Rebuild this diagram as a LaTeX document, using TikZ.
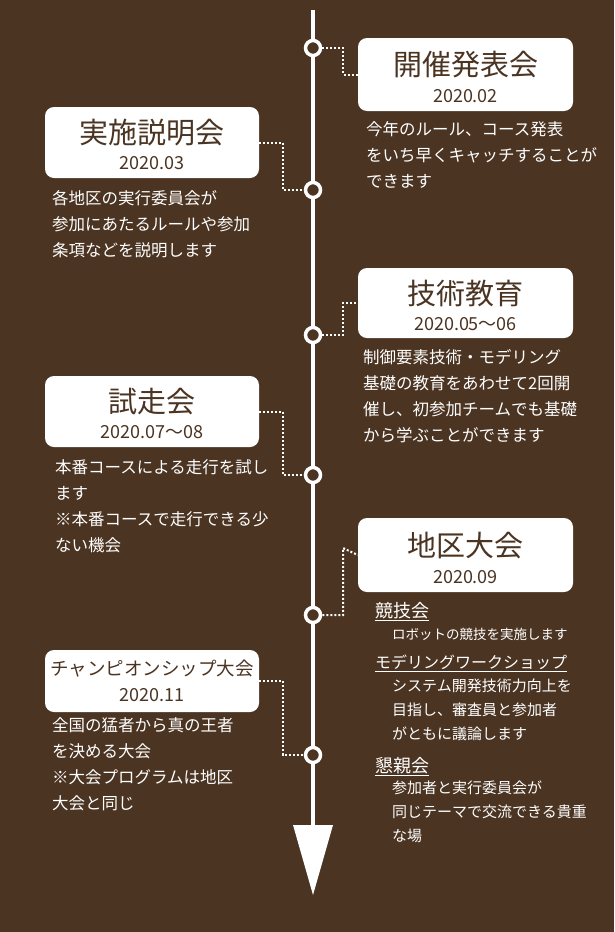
\documentclass[tikz,border=0pt]{standalone}
\usepackage{fontspec}
\setmainfont{Noto Sans CJK JP}
\begin{document}
\begin{tikzpicture}[x=1pt,y=-1pt,
  box/.style={fill=white,rounded corners=9pt,draw=none},
  ttl/.style={text=bg,font=\fontsize{29}{32}\selectfont,inner sep=0},
  dt/.style={text=bg,font=\fontsize{18}{20}\selectfont,inner sep=0},
  body/.style={text=white,font=\fontsize{16.5}{26}\selectfont,align=left,anchor=north west,inner sep=0},
  head/.style={text=white,font=\fontsize{18}{20}\selectfont,anchor=north west,inner sep=0},
  dot/.style={draw=white,line width=3.5pt,fill=bg,circle,minimum size=15pt,inner sep=0},
  conn/.style={draw=white,line width=2pt,dash pattern=on 2pt off 2pt}]
\definecolor{bg}{HTML}{4B3422}
\fill[bg] (0,0) rectangle (614,932);
\useasboundingbox (0,0) rectangle (614,932);
\draw[white,line width=4pt] (313,10) -- (313,835);
\fill[white] (293,825) -- (333,825) -- (313,895) -- cycle;
\foreach \n/\y in {c1/48,c2/190,c3/335,c4/475,c5/615,c6/755}{\node[dot] (\n) at (313,\y) {};}
% boxes
\node[box,minimum width=215pt,minimum height=73pt] (b1) at (465.5,74.5) {};
\node[box,minimum width=214pt,minimum height=71pt] (b2) at (152,142.5) {};
\node[box,minimum width=215pt,minimum height=70pt] (b3) at (465.5,303) {};
\node[box,minimum width=214pt,minimum height=71pt] (b4) at (152,411.5) {};
\node[box,minimum width=215pt,minimum height=74pt] (b5) at (465.5,555) {};
\node[box,minimum width=214pt,minimum height=62pt] (b6) at (152,681) {};
\node[ttl] at (465.5,65) {開催発表会}; \node[dt] at (465.5,96) {2020.02};
\node[ttl] at (152,133) {実施説明会}; \node[dt] at (152,163) {2020.03};
\node[ttl] at (465.5,294) {技術教育}; \node[dt] at (465.5,324) {2020.05〜06};
\node[ttl] at (152,402) {試走会}; \node[dt] at (152,432) {2020.07〜08};
\node[ttl] at (465.5,546) {地区大会}; \node[dt] at (465.5,577) {2020.09};
\node[ttl,font=\fontsize{18.5}{22}\selectfont] at (152,669) {チャンピオンシップ大会}; \node[dt] at (152,695) {2020.11};
% connectors
\draw[conn] (c1.east) -| (343,74.5) -- (b1.west);
\draw[conn] (b2.east) -| (283,190) -- (c2.west);
\draw[conn] (c3.east) -| (343,303) -- (b3.west);
\draw[conn] (b4.east) -| (283,475) -- (c4.west);
\draw[conn] (c5.east) -| (343,548) -- (b5.west);
\draw[conn] (b6.east) -| (283,755) -- (c6.west);
% bodies
\node[body] (t1) at (366,121) {今年のルール、コース発表\\をいち早くキャッチすることが\\できます};
\node[body] (t2) at (52,190) {各地区の実行委員会が\\参加にあたるルールや参加\\条項などを説明します};
\node[body] (t3) at (363,349) {制御要素技術・モデリング\\基礎の教育をあわせて2回開\\催し、初参加チームでも基礎\\から学ぶことができます};
\node[body] (t4) at (55,459) {本番コースによる走行を試し\\ます\\※本番コースで走行できる少\\ない機会};
\node[body] (t6) at (52,717) {全国の猛者から真の王者\\を決める大会\\※大会プログラムは地区\\大会と同じ};
\node[head] (h1) at (375,602) {\underline{競技会}};
\node[body,font=\fontsize{13.5}{24}\selectfont] (s1) at (392,628) {ロボットの競技を実施します};
\node[head,font=\fontsize{16}{18}\selectfont] (h2) at (375,655) {\underline{モデリングワークショップ}};
\node[body,font=\fontsize{15}{24}\selectfont] (s2) at (392,679) {システム開発技術力向上を\\目指し、審査員と参加者\\がともに議論します};
\node[head] (h3) at (375,757) {\underline{懇親会}};
\node[body,font=\fontsize{15}{24}\selectfont] (s3) at (392,781) {参加者と実行委員会が\\同じテーマで交流できる貴重\\な場};
\end{tikzpicture}
\end{document}
